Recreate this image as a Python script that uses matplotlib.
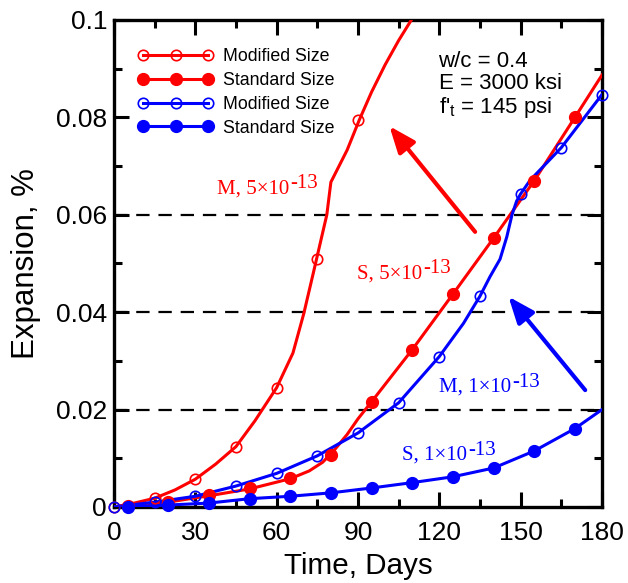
import numpy as np
import matplotlib; matplotlib.use("Agg")
import matplotlib.pyplot as plt
from matplotlib.ticker import MultipleLocator, FixedLocator, FixedFormatter

plt.rcParams["font.family"] = ["Liberation Sans", "DejaVu Sans"]
plt.rcParams["mathtext.fontset"] = "custom"
plt.rcParams["mathtext.sf"] = "Liberation Sans"

RED = "#ff0000"; BLUE = "#0000ff"

# measured points (markers)
m5_days = [0, 15, 30, 45, 60, 75, 90]
m5_vals = [0.0, 0.0018, 0.0057, 0.0124, 0.0245, 0.0509, 0.0795]
s5_days = [5, 20, 35, 50, 65, 80, 95, 110, 125, 140, 155, 170]
s5_vals = [0.0003, 0.0010, 0.0024, 0.0039, 0.0060, 0.0106, 0.0216, 0.0323, 0.0437, 0.0552, 0.0670, 0.0800]
m1_days = [0, 15, 30, 45, 60, 75, 90, 105, 120, 135, 150, 165, 180]
m1_vals = [0.0, 0.0010, 0.0022, 0.0043, 0.0069, 0.0105, 0.0152, 0.0214, 0.0309, 0.0433, 0.0643, 0.0738, 0.0847]
s1_days = [5, 20, 35, 50, 65, 80, 95, 110, 125, 140, 155, 170]
s1_vals = [0.0, 0.0004, 0.0008, 0.0017, 0.0022, 0.0029, 0.0039, 0.0050, 0.0062, 0.0080, 0.0115, 0.0161]

# fitted curves
m5_fit_d = [0, 7.5, 15, 22.5, 30, 37.5, 45, 52, 60, 66, 70, 73.5, 78.5, 80, 86, 90.5, 95, 100, 105, 110]
m5_fit_v = [0.0, 0.0008, 0.0018, 0.0035, 0.0057, 0.0088, 0.0124, 0.0177, 0.0245, 0.0316, 0.0397, 0.0480,
            0.0600, 0.0667, 0.0733, 0.0795, 0.0852, 0.0908, 0.0958, 0.1003]
s5_fit_d = [0, 20, 35, 50, 65, 72, 77, 81, 86, 90, 95, 110, 125, 140, 155, 170, 180]
s5_fit_v = [0.0, 0.0010, 0.0023, 0.0037, 0.0058, 0.0074, 0.0092, 0.0115, 0.0149, 0.0181, 0.0216,
            0.0323, 0.0437, 0.0552, 0.0670, 0.0800, 0.0887]
m1_fit_d = [0, 15, 30, 45, 60, 75, 90, 105, 120, 128.9, 135, 138.7, 142.4, 144.9, 146.8, 148.5,
            150, 153.5, 165, 180]
m1_fit_v = [0.0, 0.0010, 0.0022, 0.0043, 0.0069, 0.0105, 0.0152, 0.0214, 0.0309, 0.0377, 0.0433,
            0.0473, 0.0509, 0.0555, 0.0600, 0.0628, 0.0643, 0.0671, 0.0738, 0.0847]
s1_fit_d = [0, 5, 20, 35, 50, 65, 80, 95, 110, 125, 140, 155, 170, 180]
s1_fit_v = [0.0, 0.0, 0.0004, 0.0008, 0.0017, 0.0022, 0.0029, 0.0039, 0.0050, 0.0062, 0.0080, 0.0115, 0.0161, 0.0200]

x_ticks = [0, 30, 60, 90, 120, 150, 180]
y_ticks = [0, 0.02, 0.04, 0.06, 0.08, 0.1]
y_labels = ["0", "0.02", "0.04", "0.06", "0.08", "0.1"]
grid_levels = [0.02, 0.04, 0.06]
legend_labels = ["Modified Size", "Standard Size", "Modified Size", "Standard Size"]

fig = plt.figure(figsize=(6.28, 5.83), dpi=100)
ax = fig.add_axes([0.1815, 0.1304, 0.7771, 0.8353])
ax.set_xlim(0, 180); ax.set_ylim(0, 0.1)

for g in grid_levels:
    ax.axhline(g, color="black", lw=1.6, dashes=(6, 4), zorder=1)

LW = 2.2
series = [
    (m5_fit_d, m5_fit_v, m5_days, m5_vals, RED, False),
    (s5_fit_d, s5_fit_v, s5_days, s5_vals, RED, True),
    (m1_fit_d, m1_fit_v, m1_days, m1_vals, BLUE, False),
    (s1_fit_d, s1_fit_v, s1_days, s1_vals, BLUE, True),
]
handles = []
for fd, fv, d, v, c, filled in series:
    ax.plot(fd, fv, color=c, lw=LW, zorder=3)
    if filled:
        mk = dict(marker="o", ms=8.5, mfc=c, mec=c)
    else:
        mk = dict(marker="o", ms=7.5, mfc="none", mec=c, mew=1.2)
    ax.plot(d, v, ls="none", zorder=4, clip_on=False, **mk)
    h, = ax.plot([], [], color=c, lw=LW, **mk)
    handles.append(h)

ax.legend(handles, legend_labels, loc="upper left", bbox_to_anchor=(0.048, 0.942),
          frameon=False, fontsize=12.8, numpoints=3, handlelength=4.29, handletextpad=0.51,
          labelspacing=0.38, borderpad=0, borderaxespad=0)

ax.text(0.665, 0.936, "w/c = 0.4\nE = 3000 ksi\nf'$_\\mathsf{t}$ = 145 psi", transform=ax.transAxes,
        fontsize=16, va="top", ha="left", linespacing=1.05)

# curve labels: base text plus raised exponent of the same size
LFS = 15
lab = dict(family="Liberation Serif", fontsize=LFS, ha="left", va="baseline")
curve_labels = [("M, 5×10", 37.9, 0.0644, RED), ("S, 5×10", 89.6, 0.0470, RED),
                ("M, 1×10", 119.9, 0.0237, BLUE), ("S, 1×10", 106.2, 0.0097, BLUE)]
for s, x, y, c in curve_labels:
    t = ax.text(x, y, s, color=c, **lab)
    ax.annotate("-13", xy=(1, 0), xycoords=t, xytext=(1.0, 3.6), textcoords="offset points",
                family="Liberation Serif", fontsize=LFS, color=c, ha="left", va="bottom")

arr = "-|>,head_length=0.8,head_width=0.32"
ax.annotate("", xy=(101.6, 0.0782), xytext=(133.2, 0.0565),
            arrowprops=dict(arrowstyle=arr, color=RED, lw=3, mutation_scale=20, shrinkA=0, shrinkB=0))
ax.annotate("", xy=(145.5, 0.0432), xytext=(173.8, 0.0240),
            arrowprops=dict(arrowstyle=arr, color=BLUE, lw=3, mutation_scale=20, shrinkA=0, shrinkB=0))

ax.xaxis.set_major_locator(FixedLocator(x_ticks))
ax.xaxis.set_minor_locator(MultipleLocator(15))
ax.yaxis.set_major_locator(FixedLocator(y_ticks))
ax.yaxis.set_major_formatter(FixedFormatter(y_labels))
ax.yaxis.set_minor_locator(MultipleLocator(0.01))
ax.tick_params(which="both", direction="in", top=True, right=True, width=2.2, labelsize=19)
ax.tick_params(which="major", length=10.8)
ax.tick_params(which="minor", length=5.8)
ax.tick_params(axis="x", which="major", pad=10)
ax.tick_params(axis="y", which="major", pad=5)
for s in ax.spines.values():
    s.set_linewidth(2.4)

ax.set_xlabel("Time, Days", fontsize=21.3, labelpad=5)
ax.set_ylabel("Expansion, %", fontsize=22.5, labelpad=11)

fig.savefig("out.png", dpi=100)
